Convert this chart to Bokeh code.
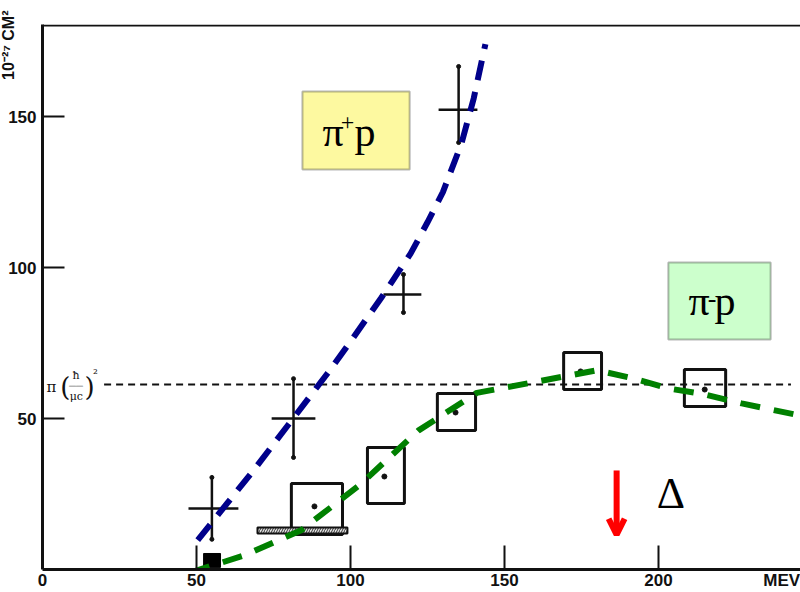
import math
from bokeh.plotting import figure
from bokeh.models import (Label, Arrow, OpenHead, FixedTicker, Span, Range1d,
                          BoxAnnotation, Title)
from bokeh.embed import file_html
from bokeh.resources import INLINE

# ---------------- data ----------------
x_ticks = [0, 50, 100, 150, 200, 240]
x_tick_marks = [50, 100, 150, 200]
x_labels = {240: "MEV"}
y_ticks = [50, 100, 150]

# pi+ p measurements (crosses)
pip_x = [55.0, 81.5, 117.2, 135.1]
pip_y = [20.2, 50.0, 91.1, 152.3]
pip_ylo = [10.0, 37.1, 85.1, 141.4]
pip_yhi = [30.5, 63.2, 97.7, 166.6]
pip_xlo = [47.4, 74.4, 110.7, 128.6]
pip_xhi = [63.6, 88.6, 123.0, 141.2]

# pi- p measurements (boxes with central dot)
pim_x = [88.3, 111.0, 134.1, 174.7, 215.0]
pim_y = [20.9, 30.8, 52.0, 65.6, 59.6]
pim_xlo = [80.8, 105.5, 128.2, 169.2, 208.4]
pim_xhi = [97.4, 117.5, 140.6, 181.5, 221.8]
pim_ylo = [11.6, 21.9, 46.0, 59.6, 54.0]
pim_yhi = [28.5, 40.4, 58.3, 71.9, 66.2]

# extra pi- p points: hatched bar and black square
hatch_x = [69.8, 99.0]
hatch_y = [11.9, 13.9]
square_x = [52.3, 57.8]
square_y = [0.7, 5.3]

# fitted curves (dashed)
blue_x = [50.4, 60, 68.5, 80, 92.5, 100, 110, 119.5, 125, 130, 136, 140, 143.8]
blue_y = [9.7, 22, 32.8, 48.2, 64.9, 75.5, 90, 104.6, 115, 125, 141, 156, 174]
green_x = [48, 65, 84, 103, 122, 141, 162, 180, 191, 203, 215, 227, 245]
green_y = [-1, 4.5, 13, 28, 46, 58.5, 62.5, 66, 63.5, 60, 58, 55, 51.2]

geom_level = 61.3      # pi (hbar / mu c)^2
delta_energy = 186.4   # Delta resonance marker

# ---------------- figure ----------------
p = figure(width=800, height=592, x_range=Range1d(0, 246.1),
           y_range=Range1d(0, 180.5), output_backend="svg",
           toolbar_location=None, min_border_left=42, min_border_right=0,
           min_border_top=24, min_border_bottom=23)
p.grid.visible = False
p.outline_line_color = None
p.background_fill_color = "white"
p.border_fill_color = "white"

tick_font = "Liberation Sans"
for ax in (p.xaxis, p.yaxis):
    ax.axis_line_width = 3
    ax.axis_line_color = "#111111"
    ax.major_tick_line_width = 2
    ax.major_tick_line_color = "#111111"
    ax.major_tick_out = 0
    ax.minor_tick_out = 0
    ax.major_label_text_font = tick_font
    ax.major_label_text_font_size = "17px"
    ax.major_label_text_font_style = "bold"
    ax.major_label_text_color = "#111111"
p.xaxis.ticker = FixedTicker(ticks=x_ticks, minor_ticks=x_tick_marks)
p.xaxis.major_label_overrides = x_labels
p.xaxis.major_tick_in = 0
p.xaxis.minor_tick_in = 24
p.xaxis.minor_tick_line_width = 2
p.xaxis.minor_tick_line_color = "#111111"
p.yaxis.ticker = FixedTicker(ticks=y_ticks)
p.yaxis.minor_tick_line_color = None
p.yaxis.major_tick_in = 22
p.xaxis.major_label_standoff = 1
p.yaxis.major_label_standoff = 6

# unit label of the y axis (overlapping the tick-label column, as in the original)
p.add_layout(Title(text="10⁻²⁷ CM²", align="right", text_font=tick_font,
                   text_font_size="16px", text_font_style="bold",
                   text_color="#111111", standoff=-23, offset=-14), "left")

# top frame line
p.add_layout(Span(location=180.2, dimension="width", line_color="#111111",
                  line_width=2))

# geometric cross-section dashed level
p.line([20.0, 243.0], [geom_level, geom_level], line_color="#111111",
       line_width=2, line_dash="7 5")

# pi- p boxes
p.quad(left=pim_xlo, right=pim_xhi, bottom=pim_ylo, top=pim_yhi,
       fill_alpha=0, line_color="#111111", line_width=3)
p.scatter(pim_x, pim_y, size=5, color="#111111")
p.quad(left=[hatch_x[0]], right=[hatch_x[1]], bottom=[hatch_y[0]],
       top=[hatch_y[1]], fill_color="#dddddd", line_color="#111111",
       line_width=2, hatch_pattern="/", hatch_color="#333333",
       hatch_scale=5, hatch_weight=1)
p.quad(left=[square_x[0]], right=[square_x[1]], bottom=[square_y[0]],
       top=[square_y[1]], fill_color="#000000", line_color="#000000")

# pi+ p crosses
p.segment(x0=pip_x, y0=pip_ylo, x1=pip_x, y1=pip_yhi, line_color="#111111",
          line_width=2.5)
p.segment(x0=pip_xlo, y0=pip_y, x1=pip_xhi, y1=pip_y, line_color="#111111",
          line_width=2.5)
p.scatter(pip_x + pip_x, pip_ylo + pip_yhi, size=4, color="#111111")

# curves
p.line(blue_x, blue_y, line_color="#00008B", line_width=6, line_dash="20 12")
p.line(green_x, green_y, line_color="#008000", line_width=6, line_dash="20 14")

# Delta arrow and label
p.add_layout(Arrow(end=OpenHead(line_color="#ff0000", line_width=6, size=16),
                   x_start=delta_energy, y_start=32.8, x_end=delta_energy,
                   y_end=11.5, line_color="#ff0000", line_width=6))
p.add_layout(Label(x=199.4, y=25.2, text="Δ", text_font="Liberation Serif",
                   text_font_size="44px", text_color="#000000",
                   text_baseline="middle"))

# legend boxes
p.add_layout(BoxAnnotation(left=84.4, right=119.2, bottom=132.5, top=158.3,
                           fill_color="#FDF9A0", fill_alpha=1,
                           line_color="#111111", line_width=2))
p.add_layout(BoxAnnotation(left=203.2, right=236.4, bottom=76.2, top=101.7,
                           fill_color="#CCFFCC", fill_alpha=1,
                           line_color="#111111", line_width=2))
serif = "Liberation Serif"
for x, y, t, s in [(90.9, 144.8, "π", "42px"), (96.8, 148.0, "+", "24px"),
                   (101.3, 144.8, "p", "42px"),
                   (209.7, 88.8, "π", "42px"), (216.0, 89.6, "-", "26px"),
                   (218.2, 88.8, "p", "42px")]:
    p.add_layout(Label(x=x, y=y, text=t, text_font=serif, text_font_size=s,
                       text_color="#000000", text_baseline="middle"))

# geometric level label  pi (hbar / mu c)^2
lab = "#111111"
p.add_layout(Label(x=1.3, y=60.6, text="π", text_font="DejaVu Serif",
                   text_font_size="15px", text_color=lab,
                   text_baseline="middle"))
p.add_layout(Label(x=5.8, y=60.6, text="(", text_font="DejaVu Serif",
                   text_font_size="26px", text_color=lab,
                   text_baseline="middle"))
p.add_layout(Label(x=10.9, y=64.2, text="ħ", text_font="DejaVu Serif",
                   text_font_size="11px", text_color=lab,
                   text_baseline="middle", text_align="center"))
p.add_layout(Label(x=10.9, y=60.9, text="――", text_font="DejaVu Sans",
                   text_font_size="7px", text_color=lab,
                   text_baseline="middle", text_align="center"))
p.add_layout(Label(x=11.0, y=57.4, text="μc", text_font="DejaVu Serif",
                   text_font_size="11px", text_color=lab,
                   text_baseline="middle", text_align="center"))
p.add_layout(Label(x=13.6, y=60.6, text=")", text_font="DejaVu Serif",
                   text_font_size="26px", text_color=lab,
                   text_baseline="middle"))
p.add_layout(Label(x=16.4, y=64.6, text="²", text_font="DejaVu Serif",
                   text_font_size="12px", text_color=lab,
                   text_baseline="middle"))

open("out.html", "w").write(file_html(p, INLINE))
